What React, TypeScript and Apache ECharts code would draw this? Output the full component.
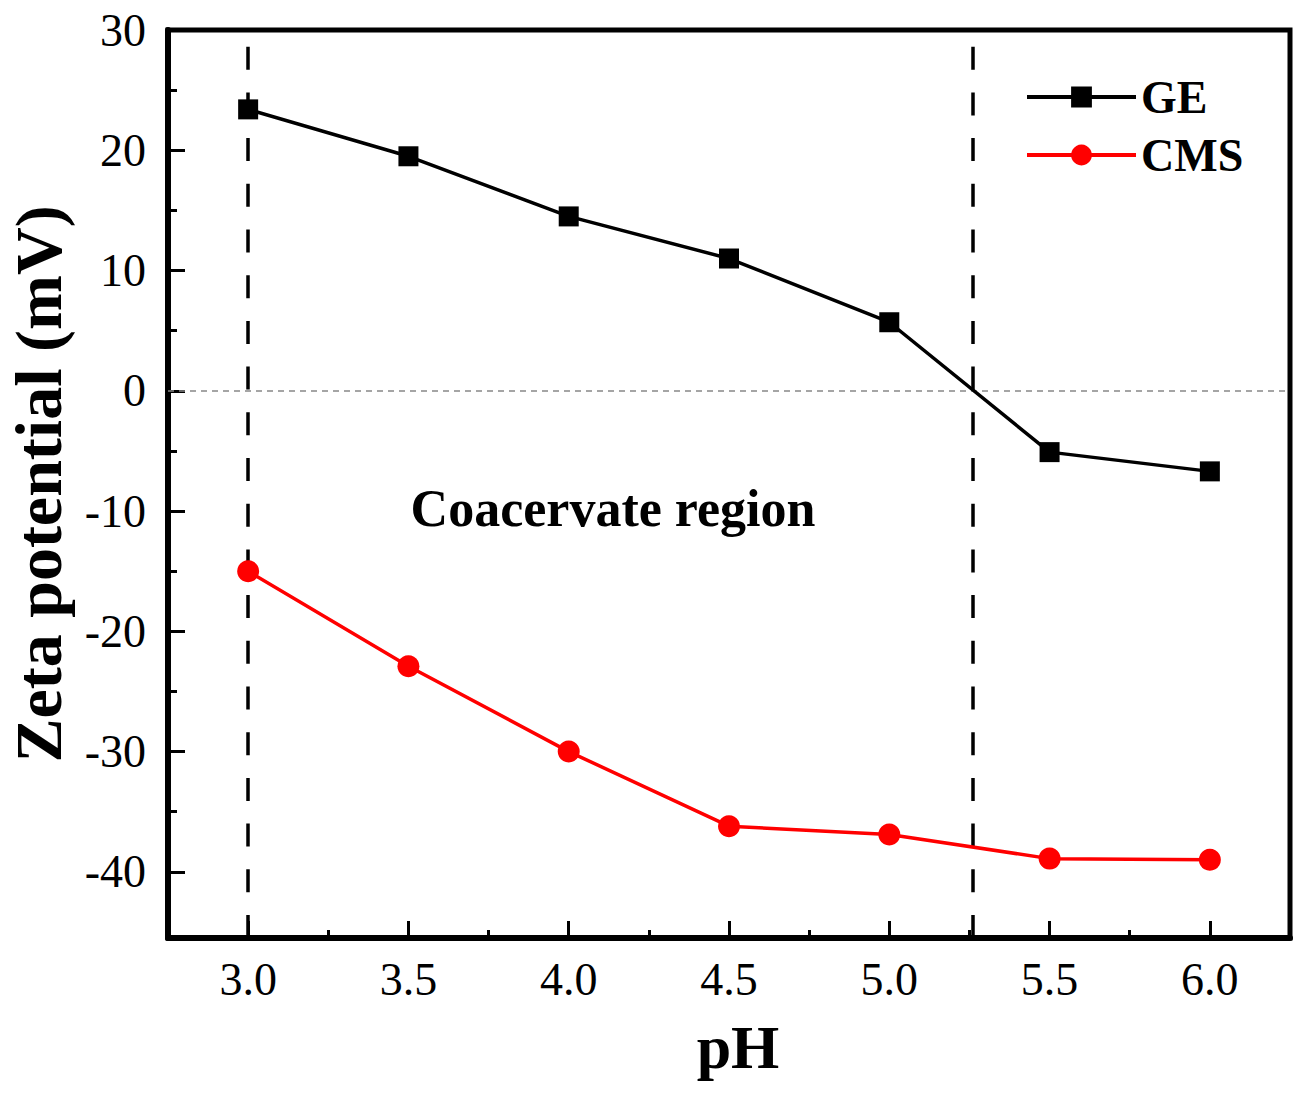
import React, { useEffect, useRef } from "react";
import * as echarts from "echarts";

const phValues = [3.0, 3.5, 4.0, 4.5, 5.0, 5.5, 6.0];
const geValues = [23.4, 19.5, 14.5, 11.0, 5.7, -5.1, -6.7];
const cmsValues = [-15.0, -22.9, -30.0, -36.2, -36.9, -38.9, -39.0];
const xMajorTicks = [3.0, 3.5, 4.0, 4.5, 5.0, 5.5, 6.0];
const xMinorTicks = [2.75, 3.25, 3.75, 4.25, 4.75, 5.25, 5.75, 6.25];
const yMajorTicks = [-40, -30, -20, -10, 0, 10, 20, 30];
const yMinorTicks = [-35, -25, -15, -5, 5, 15, 25];
const boundaryLines = [3.0, 5.26];

const FONT = "'Liberation Serif', 'Times New Roman', serif";

export default function App() {
  const ref = useRef<HTMLDivElement>(null);
  useEffect(() => {
    if (!ref.current) return;
    const chart = echarts.init(ref.current, null, { renderer: "svg" });
    const geData = phValues.map((x, i) => [x, geValues[i]]);
    const cmsData = phValues.map((x, i) => [x, cmsValues[i]]);
    const xBase = { type: "value", min: 2.75, max: 6.25, gridIndex: 0, splitLine: { show: false } };
    const yBase = { type: "value", min: -45.5, max: 30, gridIndex: 0, splitLine: { show: false } };
    chart.setOption({
      animation: false,
      backgroundColor: "#fff",
      grid: {
        left: 168,
        top: 30,
        right: 8,
        bottom: 155,
        show: true,
        borderColor: "#000",
        borderWidth: 5,
        containLabel: false,
        outerBoundsMode: "none",
      },
      legend: {
        orient: "vertical",
        left: 1020,
        top: 67,
        itemWidth: 109,
        itemHeight: 26,
        itemGap: 8,
        lineStyle: { width: 4 },
        textStyle: { fontFamily: FONT, fontSize: 46, fontWeight: "bold", color: "#000", lineHeight: 50 },
        data: ["GE", "CMS"],
      },
      xAxis: [
        {
          ...xBase,
          position: "bottom",
          axisLine: { show: true, onZero: false, lineStyle: { color: "#000", width: 6 } },
          axisTick: { show: true, inside: true, length: 17, lineStyle: { color: "#000", width: 3 }, customValues: xMajorTicks },
          axisLabel: {
            show: true,
            customValues: xMajorTicks,
            formatter: (v: number) => v.toFixed(1),
            fontFamily: FONT,
            fontSize: 46,
            color: "#000",
            margin: 18,
          },
          name: "pH",
          nameLocation: "middle",
          nameGap: 78,
          nameTextStyle: { fontFamily: FONT, fontSize: 62, fontWeight: "bold", color: "#000", padding: [0, 0, 0, 18] },
        },
        {
          ...xBase,
          position: "bottom",
          axisLine: { show: false, onZero: false },
          axisTick: { show: true, inside: true, length: 8, lineStyle: { color: "#000", width: 3 }, customValues: xMinorTicks },
          axisLabel: { show: false },
        },
      ],
      yAxis: [
        {
          ...yBase,
          position: "left",
          axisLine: { show: true, onZero: false, lineStyle: { color: "#000", width: 6 } },
          axisTick: { show: true, inside: true, length: 17, lineStyle: { color: "#000", width: 3 }, customValues: yMajorTicks },
          axisLabel: {
            show: true,
            customValues: yMajorTicks,
            formatter: (v: number) => String(v),
            fontFamily: FONT,
            fontSize: 46,
            color: "#000",
            margin: 22,
          },
          name: "Zeta potential (mV)",
          nameLocation: "middle",
          nameGap: 97,
          nameTextStyle: { fontFamily: FONT, fontSize: 66, fontWeight: "bold", color: "#000" },
        },
        {
          ...yBase,
          position: "left",
          axisLine: { show: false, onZero: false },
          axisTick: { show: true, inside: true, length: 9, lineStyle: { color: "#000", width: 3 }, customValues: yMinorTicks },
          axisLabel: { show: false },
        },
      ],
      graphic: [
        {
          type: "text",
          x: 613,
          y: 508,
          style: {
            text: "Coacervate region",
            font: `bold 52px ${FONT}`,
            fill: "#000",
            textAlign: "center",
            textVerticalAlign: "middle",
          },
          silent: true,
        },
      ],
      series: [
        {
          name: "GE",
          type: "line",
          xAxisIndex: 0,
          yAxisIndex: 0,
          data: geData,
          symbol: "rect",
          symbolSize: 20,
          itemStyle: { color: "#000" },
          lineStyle: { color: "#000", width: 3.5 },
          z: 5,
          markLine: {
            silent: true,
            symbol: "none",
            label: { show: false },
            z: 1,
            data: [
              ...boundaryLines.map((v) => ({
                xAxis: v,
                lineStyle: { color: "#000", width: 3.5, type: [23, 22.7] },
              })),
              { yAxis: 0, lineStyle: { color: "#888", width: 1.5, type: [6, 5] } },
            ],
          },
        },
        {
          name: "CMS",
          type: "line",
          xAxisIndex: 0,
          yAxisIndex: 0,
          data: cmsData,
          symbol: "circle",
          symbolSize: 22,
          itemStyle: { color: "#ff0000" },
          lineStyle: { color: "#ff0000", width: 3.5 },
          z: 5,
        },
      ],
    });
    return () => chart.dispose();
  }, []);
  return (
    <div
      ref={ref}
      style={{ position: "fixed", left: 0, top: 0, width: 1298, height: 1093, background: "#fff" }}
    />
  );
}
